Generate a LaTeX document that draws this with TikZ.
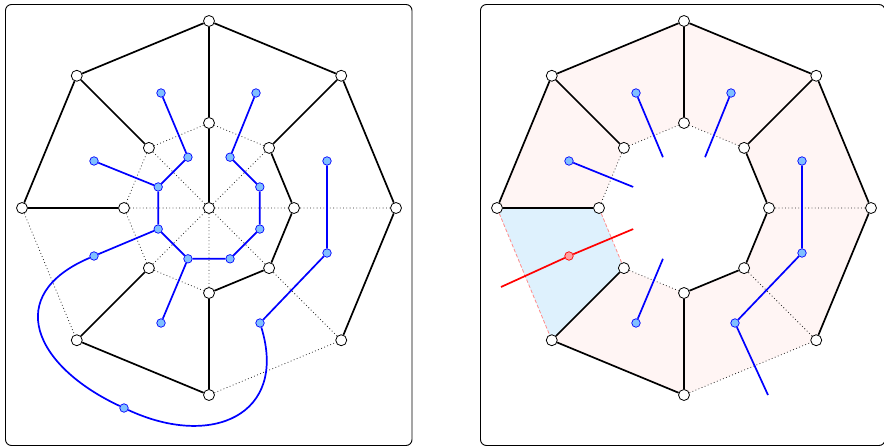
\documentclass[tikz,border=0pt]{standalone}
\usepackage{tikz}
\usetikzlibrary{backgrounds}
\definecolor{ringpink}{RGB}{255,245,244}
\definecolor{facecyan}{RGB}{222,241,253}
\definecolor{dualfill}{RGB}{128,192,255}
\definecolor{cutfill}{RGB}{255,160,160}
\definecolor{cutline}{RGB}{255,140,140}
\tikzset{
vertex/.style={
  circle,
  draw,
  fill=white,
  line width=0.8pt,
  minimum size=11pt,
  inner sep=0pt,
 },
dual/.style={
  circle,
  draw=blue,
  fill=dualfill,
  line width=0.7pt,
  minimum size=8.5pt,
  inner sep=0pt,
 },
}

\begin{document}
\begin{tikzpicture}[x=1pt, y=1pt,
    % Styles
    treeedge/.style={% For the solid edges
        line width=1.7pt,
        },
    dotedge/.style={% For the dotted edges
        line width=0.8pt,
        black!85,
        dash pattern=on 0.8pt off 2.5pt,
        },
    cutedge/.style={% For the dashed edges round the cut face
        line width=0.8pt,
        cutline,
        dash pattern=on 3.5pt off 2pt,
        },
    dualedge/.style={% For the blue edges
        line width=1.7pt,
        blue,
        },
    cutdual/.style={% For the red edge
        line width=1.7pt,
        red,
        },
    cutnode/.style={% For the red face
        dual,
        draw=red,
        fill=cutfill,
        },
    panel/.style={% For the two boxes
        rounded corners=6pt,
        line width=0.9pt,
        },
    ]
    \useasboundingbox (0,0) rectangle (884,445);

    % Draw the boxes:
    \draw[panel] (5.5,-0.5) rectangle (412,440.5);
    \draw[panel] (480.5,-0.5) rectangle (885,440.5);

    %Left picture
    \begin{scope}[shift={(209,237)}]
    %outer octagon
    \node[vertex] (out1) at (90:187) {};
    \node[vertex] (out2) at (135:187) {};
    \node[vertex] (out3) at (180:187) {};
    \node[vertex] (out4) at (225:187) {};
    \node[vertex] (out5) at (270:187) {};
    \node[vertex] (out6) at (315:187) {};
    \node[vertex] (out7) at (0:187) {};
    \node[vertex] (out8) at (45:187) {};
    %inner octagon
    \node[vertex] (in1) at (90:85) {};
    \node[vertex] (in2) at (135:85) {};
    \node[vertex] (in3) at (180:85) {};
    \node[vertex] (in4) at (225:85) {};
    \node[vertex] (in5) at (270:85) {};
    \node[vertex] (in6) at (315:85) {};
    \node[vertex] (in7) at (0:85) {};
    \node[vertex] (in8) at (45:85) {};
    \node[vertex] (mid) at (0,0) {};

    % Draw black edges
    \draw[treeedge] (out1) -- (out2) -- (out3);
    \draw[treeedge] (out4) -- (out5);
    \draw[treeedge] (out6) -- (out7) -- (out8) -- (out1);
    \draw[dotedge] (out3) -- (out4) (out5) -- (out6);
    \draw[treeedge] (out1) -- (in1) -- (mid);
    \draw[treeedge] (out2) -- (in2) (out3) -- (in3) (out4) -- (in4);
    \draw[treeedge] (out5) -- (in5) (out8) -- (in8);
    \draw[dotedge] (out6) -- (in6) (out7) -- (in7);
    \draw[treeedge] (in5) -- (in6) -- (in7) -- (in8);
    \draw[dotedge] (in8) -- (in1) -- (in2) -- (in3) -- (in4) -- (in5);
    \draw[dotedge] (mid) -- (in2) (mid) -- (in3) (mid) -- (in4) (mid) -- (in5);
    \draw[dotedge] (mid) -- (in6) (mid) -- (in7) (mid) -- (in8);

    %Draw faces
    %inner ring
    \node[dual] (f1) at (112.5:55) {};
    \node[dual] (f2) at (157.5:55) {};
    \node[dual] (f3) at (202.5:55) {};
    \node[dual] (f4) at (247.5:55) {};
    \node[dual] (f5) at (292.5:55) {};
    \node[dual] (f6) at (337.5:55) {};
    \node[dual] (f7) at (22.5:55) {};
    \node[dual] (f8) at (67.5:55) {};
    %outer ring
    \node[dual] (g1) at (-48,115) {};
    \node[dual] (g2) at (-115,47) {};
    \node[dual] (g3) at (-115,-48) {};
    \node[dual] (g4) at (-48,-115) {};
    \node[dual] (g5) at (51,-115) {};
    \node[dual] (g6) at (118,-45) {};
    \node[dual] (g7) at (118,47) {};
    \node[dual] (g8) at (47,115) {};
    %outer face
    \node[dual] (h) at (-85,-200) {};

    % Draw blue edges
    \draw[dualedge] (g1) -- (f1) -- (f2) -- (f3) -- (f4) -- (f5) -- (f6) -- (f7) -- (f8) -- (g8);
    \draw[dualedge] (g2) -- (f2) (f3) -- (g3) (f4) -- (g4);
    \draw[dualedge] (g7) -- (g6) -- (g5);
    \draw[dualedge] (g3) to[out=203, in=155, looseness=1.6] (h);
    \draw[dualedge] (h) to[out=-25, in=-73, looseness=1.5] (g5);
    \end{scope}

    %Right picture
    \begin{scope}[shift={(684,237)}]
    %outer octagon
    \node[vertex] (rout1) at (90:187) {};
    \node[vertex] (rout2) at (135:187) {};
    \node[vertex] (rout3) at (180:187) {};
    \node[vertex] (rout4) at (225:187) {};
    \node[vertex] (rout5) at (270:187) {};
    \node[vertex] (rout6) at (315:187) {};
    \node[vertex] (rout7) at (0:187) {};
    \node[vertex] (rout8) at (45:187) {};
    %inner octagon
    \node[vertex] (rin1) at (90:85) {};
    \node[vertex] (rin2) at (135:85) {};
    \node[vertex] (rin3) at (180:85) {};
    \node[vertex] (rin4) at (225:85) {};
    \node[vertex] (rin5) at (270:85) {};
    \node[vertex] (rin6) at (315:85) {};
    \node[vertex] (rin7) at (0:85) {};
    \node[vertex] (rin8) at (45:85) {};

    % Fill the ring and the cut face
    \begin{pgfonlayer}{background}
    \fill[ringpink, even odd rule] (rout1.center) -- (rout2.center) -- (rout3.center) -- (rout4.center)
        -- (rout5.center) -- (rout6.center) -- (rout7.center) -- (rout8.center) -- cycle
        (rin1.center) -- (rin2.center) -- (rin3.center) -- (rin4.center)
        -- (rin5.center) -- (rin6.center) -- (rin7.center) -- (rin8.center) -- cycle;
    \fill[facecyan] (rout3.center) -- (rout4.center) -- (rin4.center) -- (rin3.center) -- cycle;
    \end{pgfonlayer}

    % Draw black edges
    \draw[treeedge] (rout1) -- (rout2) -- (rout3);
    \draw[treeedge] (rout4) -- (rout5);
    \draw[treeedge] (rout6) -- (rout7) -- (rout8) -- (rout1);
    \draw[dotedge] (rout5) -- (rout6);
    \draw[cutedge] (rout3) -- (rout4) (rin3) -- (rin4);
    \draw[treeedge] (rout1) -- (rin1) (rout2) -- (rin2) (rout3) -- (rin3);
    \draw[treeedge] (rout4) -- (rin4) (rout5) -- (rin5) (rout8) -- (rin8);
    \draw[dotedge] (rout6) -- (rin6) (rout7) -- (rin7);
    \draw[treeedge] (rin5) -- (rin6) -- (rin7) -- (rin8);
    \draw[dotedge] (rin8) -- (rin1) -- (rin2) -- (rin3) (rin4) -- (rin5);

    %Draw faces
    \coordinate (rf1) at (112.5:55);
    \coordinate (rf2) at (157.5:55);
    \coordinate (rf3) at (202.5:55);
    \coordinate (rf4) at (247.5:55);
    \coordinate (rf8) at (67.5:55);
    \coordinate (rcut) at (-183,-79);
    \coordinate (rend) at (84,-187);
    \node[dual] (rg1) at (-48,115) {};
    \node[dual] (rg2) at (-115,47) {};
    \node[cutnode] (rg3) at (-115,-48) {};
    \node[dual] (rg4) at (-48,-115) {};
    \node[dual] (rg5) at (51,-115) {};
    \node[dual] (rg6) at (118,-45) {};
    \node[dual] (rg7) at (118,47) {};
    \node[dual] (rg8) at (47,115) {};

    % Draw blue and red edges
    \draw[dualedge] (rg1) -- (rf1) (rg8) -- (rf8) (rg2) -- (rf2) (rg4) -- (rf4);
    \draw[dualedge] (rg7) -- (rg6) -- (rg5) -- (rend);
    \draw[cutdual] (rf3) -- (rg3) -- (rcut);
    \end{scope}

\end{tikzpicture}
\end{document}
